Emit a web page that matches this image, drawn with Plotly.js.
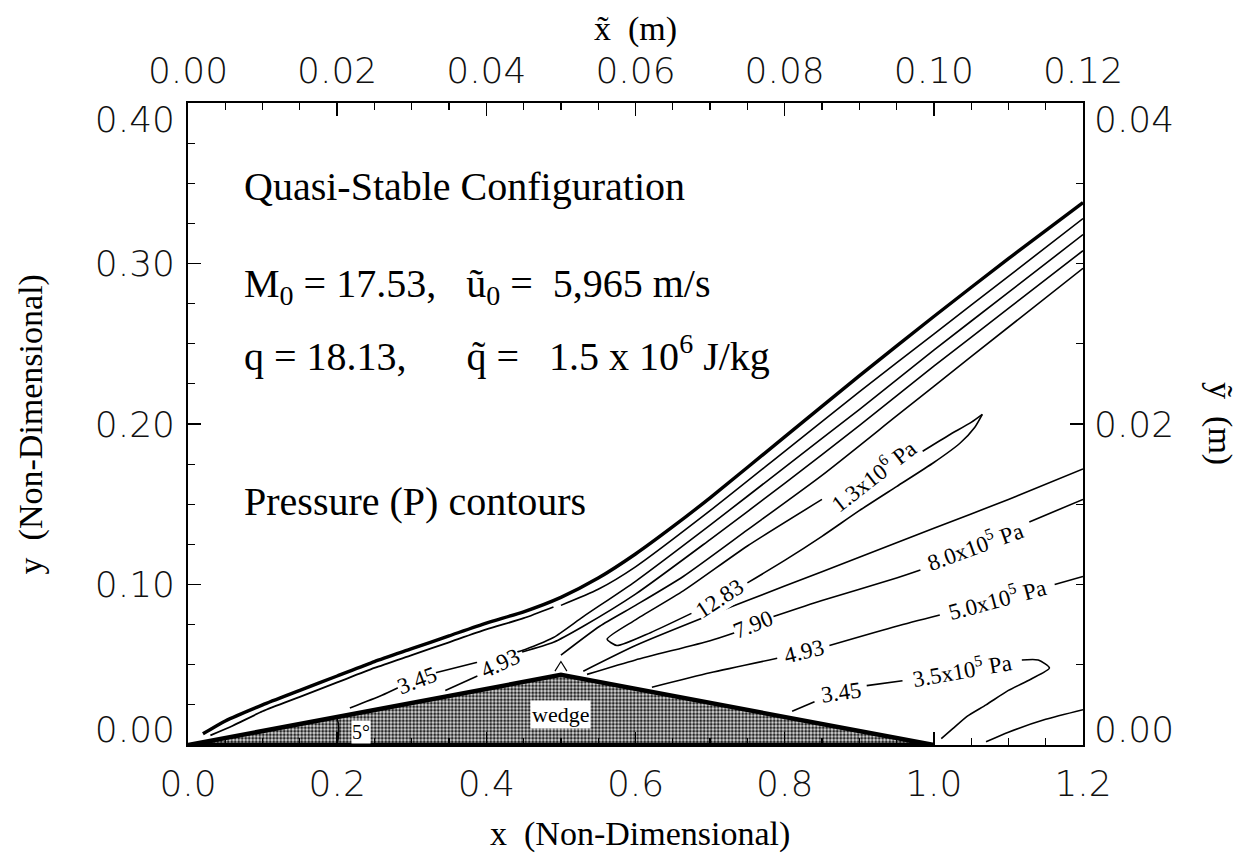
<!DOCTYPE html>
<html>
<head>
<meta charset="utf-8">
<script src="https://cdn.plot.ly/plotly-3.0.1.min.js"></script>
<style>html,body{margin:0;padding:0;background:#fff;}#chart{width:1246px;height:858px;}</style>
</head>
<body>
<div id="chart"></div>
<script>
// ---------- data ----------
const wedgeX = [0.0, 0.5, 1.0, 0.0];
const wedgeY = [0.0, 0.0437, 0.0, 0.0];

const shockX = [0.02,0.05,0.10,0.15,0.20,0.25,0.30,0.35,0.40,0.45,0.50,0.55,0.60,0.65,0.70,0.80,0.90,1.00,1.10,1.20];
const shockY = [0.007,0.015,0.025,0.034,0.043,0.052,0.060,0.068,0.076,0.083,0.092,0.104,0.119,0.136,0.154,0.192,0.230,0.267,0.303,0.338];

const shock2X = [0.03,0.06,0.10,0.15,0.20,0.25,0.30,0.35,0.40,0.45,0.49];
const shock2Y = [0.006,0.012,0.021,0.030,0.039,0.048,0.056,0.064,0.072,0.079,0.086];

const lineAX = [0.50,0.55,0.60,0.70,0.80,0.90,1.00,1.10,1.20];
const lineAY = [0.087,0.097,0.111,0.146,0.183,0.220,0.256,0.292,0.328];

const c345uX = [0.217,0.26,0.283,null,0.332,0.40,0.449,0.49,0.53,0.60,0.70,0.80,0.90,1.00,1.10,1.20];
const c345uY = [0.023,0.031,0.036,null,0.045,0.053,0.059,0.067,0.080,0.102,0.137,0.173,0.209,0.246,0.282,0.318];

const c493uX = [0.345,0.388,null,0.448,0.49,0.53,0.60,0.70,0.80,0.90,1.00,1.10,1.20];
const c493uY = [0.034,0.043,null,0.058,0.064,0.074,0.094,0.128,0.163,0.199,0.236,0.272,0.308];

const lineDX = [0.50,0.552,0.60,0.664,0.75,0.85,0.95,1.05,1.20];
const lineDY = [0.056,0.074,0.087,0.105,0.134,0.168,0.205,0.242,0.297];

const tongueX = [1.065,1.05,1.02,0.985,null,0.85,0.75,0.664,0.60,0.562,0.575,0.62,0.675,null,0.75,0.80,0.85,0.90,0.95,1.00,1.035,1.055,1.065];
const tongueY = [0.206,0.201,0.193,0.183,null,0.153,0.124,0.096,0.078,0.066,0.062,0.070,0.082,null,0.101,0.115,0.130,0.146,0.161,0.176,0.188,0.198,0.206];

const lineEX = [0.53,0.60,0.70,0.80,0.90,1.00,1.10,1.20];
const lineEY = [0.046,0.062,0.081,0.099,0.117,0.135,0.153,0.172];

const c790X = [0.535,0.60,0.70,0.733,null,0.785,0.85,0.95,0.982,null,1.128,1.20];
const c790Y = [0.044,0.053,0.065,0.070,null,0.080,0.090,0.104,0.109,null,0.139,0.153];

const c493lX = [0.622,0.70,0.79,null,0.86,0.95,1.008,null,1.162,1.20];
const c493lY = [0.036,0.045,0.054,null,0.062,0.074,0.081,null,0.100,0.105];

const c345lX = [0.81,0.84,null,0.91,0.958,null,1.118,1.14,1.155,1.13,1.10,1.07,1.045,1.025,1.01];
const c345lY = [0.021,0.027,null,0.037,0.040,null,0.053,0.053,0.048,0.041,0.034,0.025,0.018,0.010,0.004];

const cornerX = [1.07,1.10,1.15,1.20];
const cornerY = [0.002,0.008,0.016,0.022];

const apexX = [0.492,0.50,0.508];
const apexY = [0.046,0.052,0.046];

const arcX = [0.200,0.2015,0.2020,0.2015,0.1995];
const arcY = [0.000,0.0045,0.0090,0.0135,0.0172];

// contour labels
const labText = ['3.45','4.93','12.83','1.3x10<sup>6</sup> Pa','7.90','8.0x10<sup>5</sup> Pa','4.93','5.0x10<sup>5</sup> Pa','3.45','3.5x10<sup>5</sup> Pa'];
const labX    = [0.307,0.418,0.713,0.918,0.758,1.055,0.826,1.085,0.875,1.038];
const labY    = [0.040,0.051,0.091,0.168,0.075,0.124,0.058,0.091,0.033,0.047];
const labAng  = [-21,-25,-33,-38,-22,-20,-14,-15,-8,-10];

// axis ticks / labels
const xTicks = [0.0,0.2,0.4,0.6,0.8,1.0,1.2];
const xTopTicks = [0.00,0.02,0.04,0.06,0.08,0.10,0.12];
const yTicks = [0.00,0.10,0.20,0.30,0.40];
const yTickText = ['0.00','0.10','0.20','0.30','0.40'];
const yRightTicks = [0.00,0.02,0.04];
const yRightText = ['0.00','0.02','0.04'];

// ---------- traces ----------
function ln(x,y,w){return {x:x,y:y,type:'scatter',mode:'lines',line:{color:'#000',width:w||1.6,shape:'spline',smoothing:0.6},hoverinfo:'skip',showlegend:false,connectgaps:false};}
function ghost(xa,ya,xr,yr){return {x:xr,y:yr,xaxis:xa,yaxis:ya,type:'scatter',mode:'markers',marker:{opacity:0},hoverinfo:'skip',showlegend:false};}

const traces = [
  {x:wedgeX,y:wedgeY,type:'scatter',mode:'lines',fill:'toself',fillcolor:'#b5b5b5',
   fillpattern:{shape:'.',bgcolor:'#dcdcdc',fgcolor:'#262626',size:3.5,solidity:0.55},
   line:{color:'#000',width:4.5},hoverinfo:'skip',showlegend:false},
  ln(shockX,shockY,3.4),
  ln(shock2X,shock2Y,1.8),
  ln(lineAX,lineAY),
  ln(c345uX,c345uY),
  ln(c493uX,c493uY),
  ln(lineDX,lineDY),
  ln(tongueX,tongueY),
  ln(lineEX,lineEY),
  ln(c790X,c790Y),
  ln(c493lX,c493lY),
  ln(c345lX,c345lY),
  ln(cornerX,cornerY),
  {x:apexX,y:apexY,type:'scatter',mode:'lines',line:{color:'#000',width:1.2},hoverinfo:'skip',showlegend:false},
  ln(arcX,arcY,1.6),
  ghost('x2','y2',[0,0.12],[0,0.04]),
  ghost('x','y3',[0,1.2],[0,0.4]),
  ghost('x','y4',[0,1.2],[0,0.04])
];

// ---------- layout ----------
const tickFont = {family:'DejaVu Sans',size:36,color:'#111',weight:200};
const serif = 'Liberation Serif, Times New Roman, serif';
const axBase = {showgrid:false,zeroline:false,showline:true,linecolor:'#000',linewidth:2,
  ticks:'inside',ticklen:13,tickwidth:1.5,tickcolor:'#000',tickfont:tickFont};
const minorT = (d)=>({dtick:d,tick0:0,ticks:'inside',ticklen:7,tickwidth:1.2,tickcolor:'#000'});

const annotations = [];
for (let i=0;i<labText.length;i++){
  annotations.push({x:labX[i],y:labY[i],xref:'x',yref:'y',text:labText[i],showarrow:false,
    textangle:labAng[i],bgcolor:'#fff',borderpad:0,font:{family:serif,size:23,color:'#000'}});
}
const big = {family:serif,size:40,color:'#000'};
const nb = '\u00A0';
function txt(x,y,t){return {x:x,y:y,xref:'x',yref:'y',xanchor:'left',yanchor:'middle',text:t,showarrow:false,font:big};}
annotations.push(txt(0.072,0.348,'Quasi-Stable Configuration'));
annotations.push(txt(0.072,0.286,'M<sub>0</sub>'+nb+'='+nb+'17.53,'+nb+nb+nb+'\u0169<sub>0</sub>'+nb+'='+nb+nb+'5,965 m/s'));
annotations.push(txt(0.072,0.244,'q'+nb+'='+nb+'18.13,'+nb+nb+nb+nb+nb+nb+'q\u0303'+nb+'='+nb+nb+nb+'1.5 x 10<sup>6</sup> J/kg'));
annotations.push(txt(0.072,0.152,'Pressure (P) contours'));
annotations.push({x:0.5,y:0.019,xref:'x',yref:'y',text:'wedge',showarrow:false,bgcolor:'#fff',borderpad:1,font:{family:serif,size:22,color:'#000'}});
annotations.push({x:0.232,y:0.008,xref:'x',yref:'y',text:'5\u00B0',showarrow:false,bgcolor:'#fff',borderpad:0,font:{family:serif,size:20,color:'#000'}});
// axis titles
const titleFont = {family:serif,size:34,color:'#000'};
function ttl(x,y,t,ang){return {x:x,y:y,xref:'paper',yref:'paper',xanchor:'center',yanchor:'middle',text:t,textangle:ang,showarrow:false,font:titleFont};}
annotations.push(ttl(0.505,-0.138,'x'+nb+nb+'(Non-Dimensional)',0));
annotations.push(ttl(0.5,1.115,'x\u0303'+nb+nb+'(m)',0));
annotations.push(ttl(-0.175,0.5,'y'+nb+nb+'(Non-Dimensional)',-90));
annotations.push(ttl(1.153,0.5,'\u1EF9'+nb+nb+'(m)',90));

const layout = {
  width:1246,height:858,
  margin:{l:188,r:163,t:103,b:113},
  paper_bgcolor:'#fff',plot_bgcolor:'#fff',
  showlegend:false,
  xaxis:Object.assign({},axBase,{range:[0,1.2],tickvals:xTicks,tickformat:'.1f',minor:minorT(0.05),ticklabelstandoff:6}),
  xaxis2:Object.assign({},axBase,{range:[0,0.12],overlaying:'x',side:'top',tickvals:xTopTicks,tickformat:'.2f',minor:minorT(0.005),ticklabelstandoff:4}),
  yaxis:Object.assign({},axBase,{range:[0,0.4],tickvals:yTicks,showticklabels:false,minor:minorT(0.025)}),
  yaxis2:Object.assign({},axBase,{range:[0,0.04],overlaying:'y',side:'right',tickvals:yRightTicks,showticklabels:false,minor:minorT(0.005)}),
  // label-only axes: end labels sit slightly inward as in the reference
  yaxis3:{range:[0,0.4],overlaying:'y',side:'left',showgrid:false,zeroline:false,showline:false,ticks:'',
    tickvals:[0.0095,0.10,0.20,0.30,0.3895],ticktext:yTickText,tickfont:tickFont,ticklabelstandoff:12},
  yaxis4:{range:[0,0.04],overlaying:'y',side:'right',showgrid:false,zeroline:false,showline:false,ticks:'',
    tickvals:[0.00095,0.02,0.03895],ticktext:yRightText,tickfont:tickFont,ticklabelstandoff:10},
  annotations:annotations
};

Plotly.newPlot('chart',traces,layout,{staticPlot:true,displayModeBar:false});
</script>
</body>
</html>
